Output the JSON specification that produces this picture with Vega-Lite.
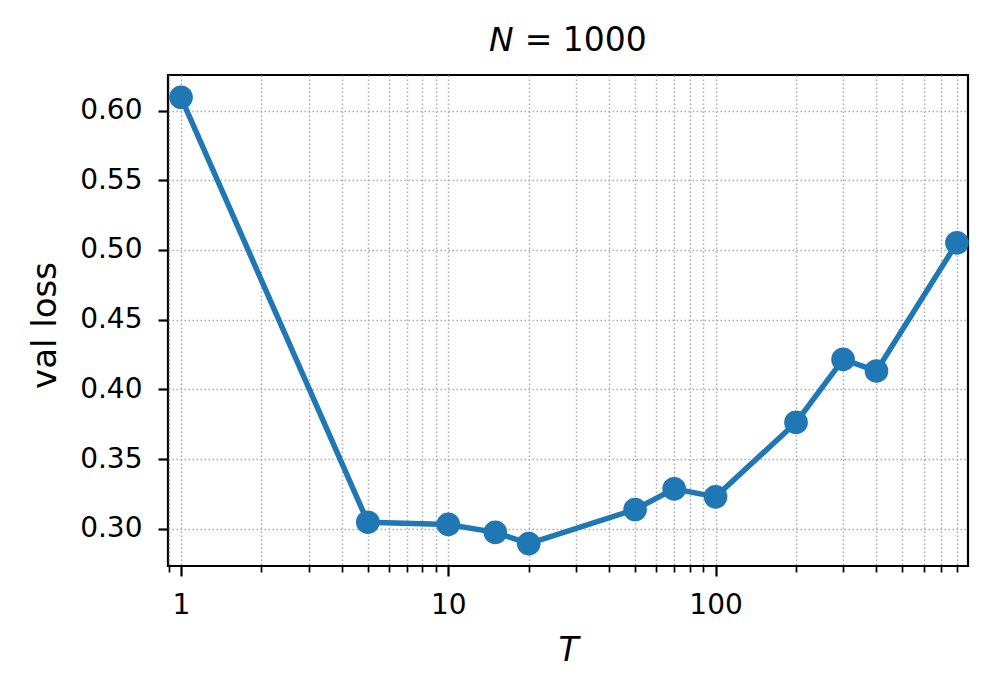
{
  "$schema": "https://vega.github.io/schema/vega-lite/v6.json",
  "width": 800,
  "height": 491,
  "autosize": {"type": "none"},
  "padding": {"left": 168, "top": 75, "right": 28, "bottom": 132},
  "background": "white",
  "config": {"font": "DejaVu Sans", "view": {"stroke": "black", "strokeWidth": 2.2}},
  "title": {"text": "𝘕 = 1000", "fontSize": 33, "fontWeight": "normal", "font": "DejaVu Sans", "color": "black", "baseline": "alphabetic", "offset": -9, "anchor": "middle"},
  "data": {"values": [
    {"T": 1, "loss": 0.6095},
    {"T": 5, "loss": 0.3047},
    {"T": 10, "loss": 0.3031},
    {"T": 15, "loss": 0.2974},
    {"T": 20, "loss": 0.2893},
    {"T": 50, "loss": 0.3138},
    {"T": 70, "loss": 0.3286},
    {"T": 100, "loss": 0.3229},
    {"T": 200, "loss": 0.3763},
    {"T": 300, "loss": 0.4215},
    {"T": 400, "loss": 0.4132},
    {"T": 800, "loss": 0.5051}
  ]},
  "encoding": {
    "x": {
      "field": "T", "type": "quantitative",
      "scale": {"type": "log", "domain": [0.894, 880], "nice": false},
      "axis": {
        "title": "T", "titleFontStyle": "italic", "titleFontSize": 33, "titleFontWeight": "normal", "titleColor": "black",
        "titleBaseline": "alphabetic", "titleY": 94.5, "titleX": 400, "titleAlign": "center",
        "values": [0.9, 1, 2, 3, 4, 5, 6, 7, 8, 9, 10, 20, 30, 40, 50, 60, 70, 80, 90, 100, 200, 300, 400, 500, 600, 700, 800],
        "labelExpr": "datum.value == 1 ? '1' : datum.value == 10 ? '10' : datum.value == 100 ? '100' : ''",
        "labelFontSize": 28, "labelColor": "black", "labelPadding": 15, "labelOverlap": false, "labelFlush": false, "labelBaseline": "top",
        "domain": false, "tickColor": "black",
        "tickSize": {"condition": {"test": "datum.value == 1 || datum.value == 10 || datum.value == 100", "value": 10}, "value": 6},
        "tickWidth": {"condition": {"test": "datum.value == 1 || datum.value == 10 || datum.value == 100", "value": 2.2}, "value": 1.7},
        "grid": true, "gridColor": "#aaaaaa", "gridDash": [1.5, 2.5], "gridWidth": 1.5
      }
    },
    "y": {
      "field": "loss", "type": "quantitative",
      "scale": {"domain": [0.2733, 0.6255], "nice": false, "zero": false},
      "axis": {
        "title": "val loss", "titleFontSize": 34, "titleFontWeight": "normal", "titleColor": "black",
        "titleAngle": -90, "titleBaseline": "alphabetic", "titleAlign": "center", "titleX": -113, "titleY": 250,
        "values": [0.30, 0.35, 0.40, 0.45, 0.50, 0.55, 0.60], "format": ".2f",
        "labelFontSize": 28, "labelColor": "black", "labelPadding": 16,
        "domain": false, "tickColor": "black", "tickSize": 10, "tickWidth": 2.2,
        "grid": true, "gridColor": "#aaaaaa", "gridDash": [1.5, 2.5], "gridWidth": 1.5
      }
    }
  },
  "layer": [
    {"mark": {"type": "line", "color": "#1f77b4", "strokeWidth": 5.5}},
    {"mark": {"type": "circle", "color": "#1f77b4", "size": 560, "opacity": 1}}
  ]
}
